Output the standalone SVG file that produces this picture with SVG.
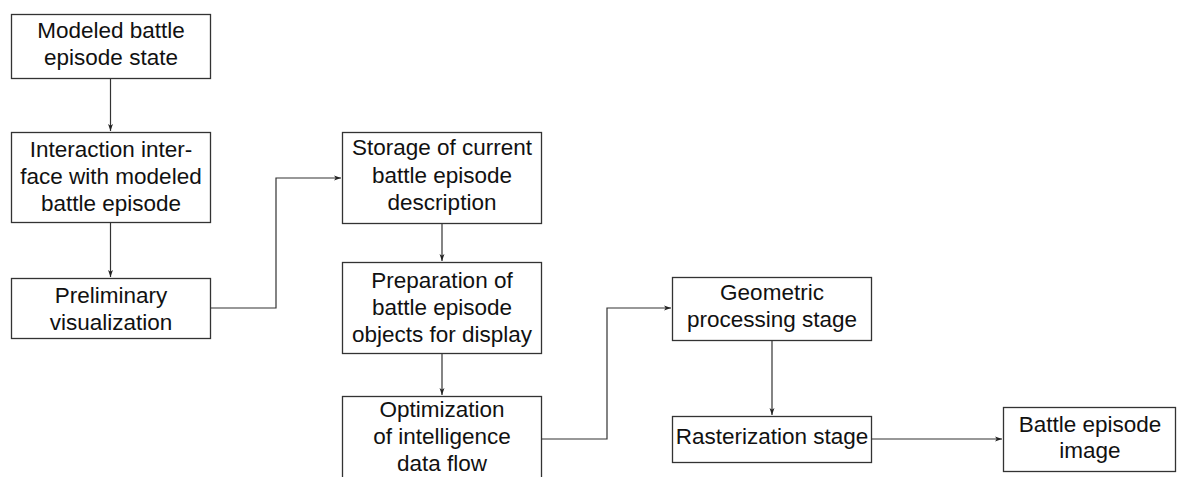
<svg xmlns="http://www.w3.org/2000/svg" width="1192" height="477" viewBox="0 0 1192 477">
<style>
.box{fill:#fff;stroke:#333;stroke-width:1.3}
.t{font-family:"Liberation Sans",Arial,sans-serif;font-size:22.5px;fill:#111;text-anchor:middle}
.c{fill:none;stroke:#333;stroke-width:1.2}
</style>
<defs>
<marker id="ah" viewBox="0 0 10 10" refX="10" refY="5" markerWidth="7" markerHeight="7" markerUnits="userSpaceOnUse" orient="auto">
<path d="M0,1.5 L10,5 L0,8.5 L2.5,5 Z" fill="#222"/>
</marker>
</defs>
<rect width="1192" height="477" fill="#fff"/>
<g id="connectors">
<path class="c" d="M110.5,78 V131" marker-end="url(#ah)"/>
<path class="c" d="M110.5,222 V277" marker-end="url(#ah)"/>
<path class="c" d="M210,308 H276 V178 H341" marker-end="url(#ah)"/>
<path class="c" d="M442,223 V261" marker-end="url(#ah)"/>
<path class="c" d="M442,353 V395" marker-end="url(#ah)"/>
<path class="c" d="M542,439 H607 V308 H671" marker-end="url(#ah)"/>
<path class="c" d="M772,340 V415" marker-end="url(#ah)"/>
<path class="c" d="M872,439 H1002" marker-end="url(#ah)"/>
</g>
<g id="n1"><rect class="box" x="11.5" y="14.5" width="199" height="64"/><text class="t" x="111" y="38">Modeled battle</text><text class="t" x="111" y="65">episode state</text></g>
<g id="n2"><rect class="box" x="11.5" y="132.5" width="199" height="90"/><text class="t" x="111" y="157">Interaction inter-</text><text class="t" x="111" y="184">face with modeled</text><text class="t" x="111" y="211">battle episode</text></g>
<g id="n3"><rect class="box" x="11.5" y="278.5" width="199" height="60"/><text class="t" x="111" y="303">Preliminary</text><text class="t" x="111" y="330">visualization</text></g>
<g id="n4"><rect class="box" x="342.5" y="132.5" width="199" height="91"/><text class="t" x="442" y="155">Storage of current</text><text class="t" x="442" y="182.5">battle episode</text><text class="t" x="442" y="210">description</text></g>
<g id="n5"><rect class="box" x="342.5" y="262.5" width="199" height="91"/><text class="t" x="442" y="288">Preparation of</text><text class="t" x="442" y="315">battle episode</text><text class="t" x="442" y="342">objects for display</text></g>
<g id="n6"><rect class="box" x="342.5" y="396.5" width="199" height="91"/><text class="t" x="442" y="417">Optimization</text><text class="t" x="442" y="444">of intelligence</text><text class="t" x="442" y="471">data flow</text></g>
<g id="n7"><rect class="box" x="672.5" y="277.5" width="199" height="63"/><text class="t" x="772" y="300">Geometric</text><text class="t" x="772" y="327">processing stage</text></g>
<g id="n8"><rect class="box" x="672.5" y="416.5" width="199" height="46"/><text class="t" x="772" y="444">Rasterization stage</text></g>
<g id="n9"><rect class="box" x="1003.5" y="407.5" width="172" height="64"/><text class="t" x="1090" y="432">Battle episode</text><text class="t" x="1090" y="458">image</text></g>
</svg>
